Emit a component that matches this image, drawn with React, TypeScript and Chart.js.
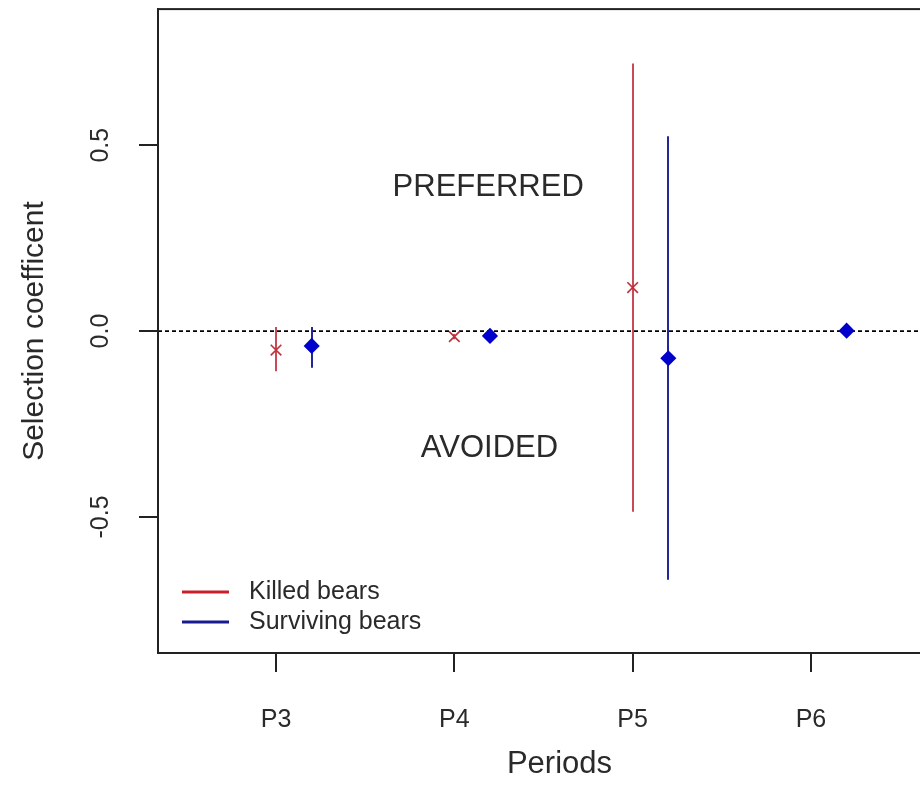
import React, { useEffect, useRef } from 'react';
import { Chart, registerables } from 'chart.js';
Chart.register(...registerables);

const periodLabels = ['P3', 'P4', 'P5', 'P6'];
const periodPositions = [3, 4, 5, 6];

const killedX = [3, 4, 5];
const killedY = [-0.051, -0.015, 0.117];
const killedLow = [-0.108, -0.022, -0.486];
const killedHigh = [0.011, -0.008, 0.72];

const survivingX = [3.2, 4.2, 5.2, 6.2];
const survivingY = [-0.04, -0.013, -0.073, 0.001];
const survivingLow = [-0.099, -0.02, -0.669, -0.005];
const survivingHigh = [0.011, -0.006, 0.524, 0.007];

const yTickValues = [-0.5, 0, 0.5];
const yTickLabels = ['-0.5', '0.0', '0.5'];

const annotations = [
  { text: 'PREFERRED', x: 4.19, y: 0.385 },
  { text: 'AVOIDED', x: 4.197, y: -0.316 },
];

const FONT = '"Liberation Sans", Arial, sans-serif';
const RED = '#c0303a';
const RED_LINE = '#c84a58';
const BLUE = '#0000cc';
const BLUE_LINE = '#25259a';

const errorBars = [
  { xs: killedX, lo: killedLow, hi: killedHigh, color: RED_LINE },
  { xs: survivingX, lo: survivingLow, hi: survivingHigh, color: BLUE_LINE },
];

const legendItems = [
  { label: 'Killed bears', color: '#c8202a' },
  { label: 'Surviving bears', color: '#1a1a90' },
];

const decorPlugin = {
  id: 'decor',
  beforeDatasetsDraw(chart: any) {
    const { ctx, chartArea } = chart;
    const xs = chart.scales.x;
    const ys = chart.scales.y;
    ctx.save();
    ctx.beginPath();
    ctx.rect(chartArea.left, chartArea.top, chartArea.right - chartArea.left, chartArea.bottom - chartArea.top);
    ctx.clip();
    const y0 = ys.getPixelForValue(0);
    ctx.strokeStyle = '#000';
    ctx.lineWidth = 1.8;
    ctx.setLineDash([4, 3]);
    ctx.beginPath();
    ctx.moveTo(chartArea.left, y0);
    ctx.lineTo(chartArea.right, y0);
    ctx.stroke();
    ctx.setLineDash([]);
    errorBars.forEach((eb) => {
      ctx.strokeStyle = eb.color;
      ctx.lineWidth = 2;
      eb.xs.forEach((xv, i) => {
        const px = Math.round(xs.getPixelForValue(xv));
        ctx.beginPath();
        ctx.moveTo(px, ys.getPixelForValue(eb.hi[i]));
        ctx.lineTo(px, ys.getPixelForValue(eb.lo[i]));
        ctx.stroke();
      });
    });
    ctx.fillStyle = '#2a2a2a';
    ctx.font = `31px ${FONT}`;
    ctx.textAlign = 'center';
    ctx.textBaseline = 'middle';
    annotations.forEach((a) => {
      ctx.fillText(a.text, xs.getPixelForValue(a.x), ys.getPixelForValue(a.y));
    });
    ctx.restore();
  },
  afterDraw(chart: any) {
    const { ctx, chartArea } = chart;
    const ys = chart.scales.y;
    ctx.save();
    ctx.strokeStyle = '#222';
    ctx.lineWidth = 2;
    ctx.strokeRect(chartArea.left, chartArea.top, chartArea.right - chartArea.left, chartArea.bottom - chartArea.top);
    ctx.fillStyle = '#2a2a2a';
    ctx.font = `25px ${FONT}`;
    ctx.textAlign = 'center';
    ctx.textBaseline = 'middle';
    yTickValues.forEach((v, i) => {
      const py = ys.getPixelForValue(v);
      ctx.save();
      ctx.translate(101, py);
      ctx.rotate(-Math.PI / 2);
      ctx.fillText(yTickLabels[i], 0, 0);
      ctx.restore();
    });
    const lx0 = chartArea.left + 24;
    const lx1 = chartArea.left + 71;
    const ly = [592, 622];
    ctx.font = `25px ${FONT}`;
    ctx.textAlign = 'left';
    legendItems.forEach((it, i) => {
      ctx.strokeStyle = it.color;
      ctx.lineWidth = 3;
      ctx.beginPath();
      ctx.moveTo(lx0, ly[i]);
      ctx.lineTo(lx1, ly[i]);
      ctx.stroke();
      ctx.fillStyle = '#2a2a2a';
      ctx.fillText(it.label, chartArea.left + 91, ly[i]);
    });
    ctx.restore();
  },
};

export default function App() {
  const ref = useRef<HTMLCanvasElement | null>(null);
  useEffect(() => {
    if (!ref.current) return;
    const chart = new Chart(ref.current, {
      type: 'scatter',
      data: {
        datasets: [
          {
            label: 'Killed bears',
            data: killedX.map((x, i) => ({ x, y: killedY[i] })),
            pointStyle: 'crossRot',
            pointRadius: 7.5,
            borderWidth: 1.6,
            borderColor: RED,
            backgroundColor: RED,
          },
          {
            label: 'Surviving bears',
            data: survivingX.map((x, i) => ({ x, y: survivingY[i] })),
            pointStyle: 'rectRot',
            pointRadius: 7,
            borderWidth: 1.5,
            borderColor: BLUE,
            backgroundColor: BLUE,
          },
        ],
      },
      options: {
        responsive: false,
        animation: false,
        events: [],
        layout: { padding: { top: 9, right: 9, left: 0, bottom: 0 } },
        plugins: { legend: { display: false }, tooltip: { enabled: false } },
        scales: {
          x: {
            type: 'linear',
            min: 2.338,
            max: 6.841,
            afterBuildTicks: (s: any) => {
              s.ticks = periodPositions.map((v) => ({ value: v }));
            },
            afterFit: (s: any) => {
              s.height = 152;
            },
            ticks: {
              callback: (v: any) => {
                const i = periodPositions.indexOf(Number(v));
                return i >= 0 ? periodLabels[i] : '';
              },
              color: '#2a2a2a',
              font: { family: FONT, size: 25 },
              padding: 33,
              maxRotation: 0,
              autoSkip: false,
            },
            grid: { drawOnChartArea: false, drawTicks: true, tickLength: 19, tickColor: '#222', lineWidth: 2 },
            border: { display: true, color: '#222', width: 2 },
            title: {
              display: true,
              text: 'Periods',
              color: '#2a2a2a',
              font: { family: FONT, size: 31 },
              padding: { top: 0, bottom: 22 },
            },
          },
          y: {
            type: 'linear',
            min: -0.866,
            max: 0.866,
            afterBuildTicks: (s: any) => {
              s.ticks = yTickValues.map((v) => ({ value: v }));
            },
            afterFit: (s: any) => {
              s.width = 158;
            },
            ticks: { display: false },
            grid: { drawOnChartArea: false, drawTicks: true, tickLength: 19, tickColor: '#222', lineWidth: 2 },
            border: { display: true, color: '#222', width: 2 },
            title: {
              display: true,
              text: 'Selection coefficent',
              color: '#2a2a2a',
              font: { family: FONT, size: 30 },
              padding: { top: 17, bottom: 0 },
            },
          },
        },
      },
      plugins: [decorPlugin],
    });
    return () => chart.destroy();
  }, []);
  return (
    <div style={{ position: 'fixed', left: 0, top: 0, width: 920, height: 805, overflow: 'hidden', background: '#fff' }}>
      <canvas ref={ref} width={970} height={805} style={{ display: 'block', width: 970, height: 805 }} />
    </div>
  );
}
